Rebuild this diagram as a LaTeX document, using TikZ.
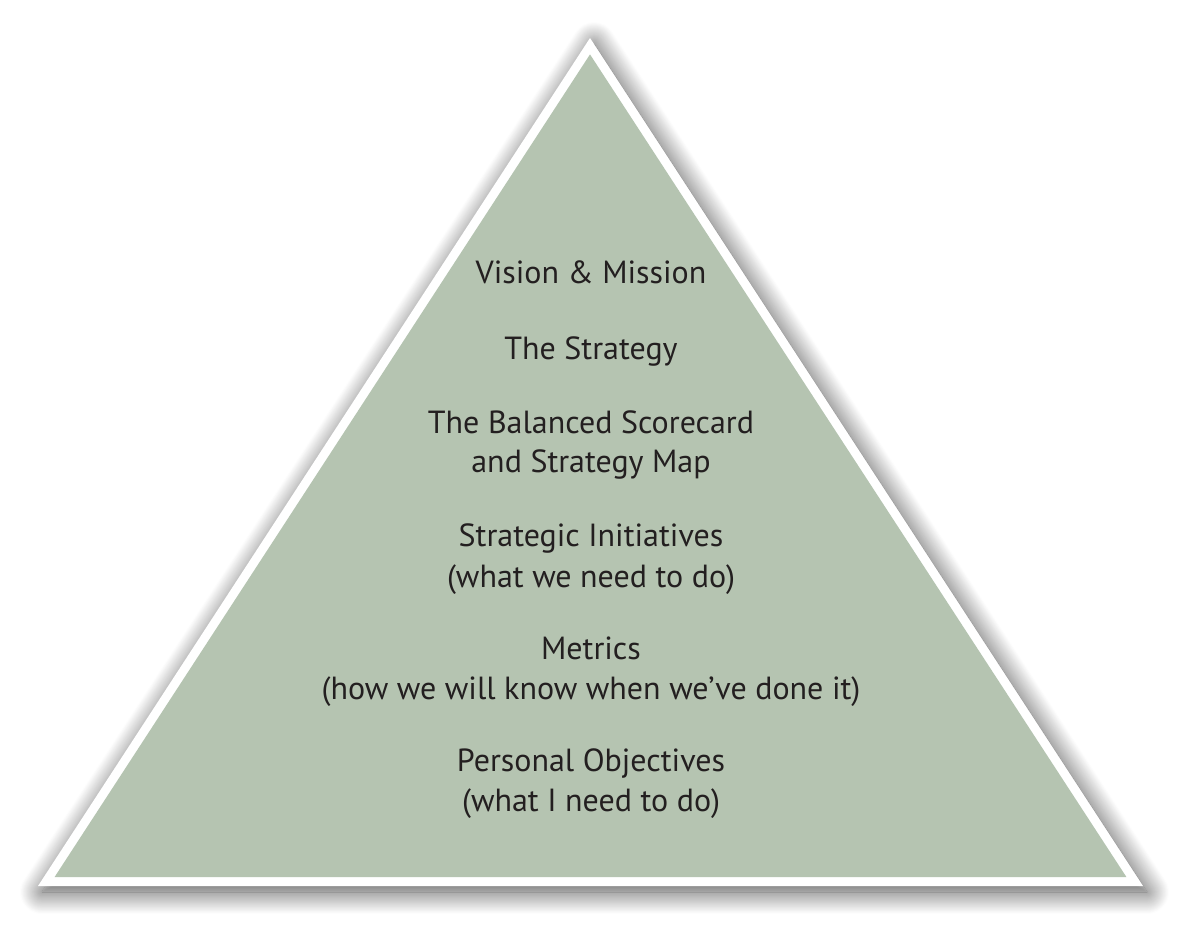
\documentclass[tikz,border=0pt]{standalone}
\usepackage{fontspec}
\setmainfont{PT Sans}
\usetikzlibrary{shadows.blur}
\definecolor{pyrgreen}{HTML}{B5C4B1}
\definecolor{txtdark}{HTML}{231F20}
\begin{document}
\begin{tikzpicture}[x=1pt,y=-1pt,
  tier/.style={anchor=base,align=center,text=txtdark,inner sep=0pt,
    font=\fontsize{32}{40}\selectfont}]
\useasboundingbox (0,0) rectangle (1182,924);
% outer white border with soft shadow
\fill[white,blur shadow={shadow xshift=4pt,shadow yshift=-6pt,shadow blur radius=22pt,shadow opacity=70,shadow blur steps=24}]
  (590,38) coordinate (apex) -- (38,886) coordinate (bl) -- (1143,886) coordinate (br) -- cycle;
% inner green triangle
\fill[pyrgreen] (590,54.4) -- (54.6,877) -- (1126.4,877) -- cycle;
% texts
\node[tier] (vision) at (591,283) {Vision \& Mission};
\node[tier] (strategy) at (591,359) {The Strategy};
\node[tier] (bsc) at (591,433) {The Balanced Scorecard};
\node[tier] (bsc2) at (591,472) {and Strategy Map};
\node[tier] (init) at (591,546) {Strategic Initiatives};
\node[tier] (init2) at (591,587) {(what we need to do)};
\node[tier] (metrics) at (591,659) {Metrics};
\node[tier] (metrics2) at (591,699) {(how we will know when we’ve done it)};
\node[tier] (pers) at (591,771) {Personal Objectives};
\node[tier] (pers2) at (591,811) {(what I need to do)};
\end{tikzpicture}
\end{document}
